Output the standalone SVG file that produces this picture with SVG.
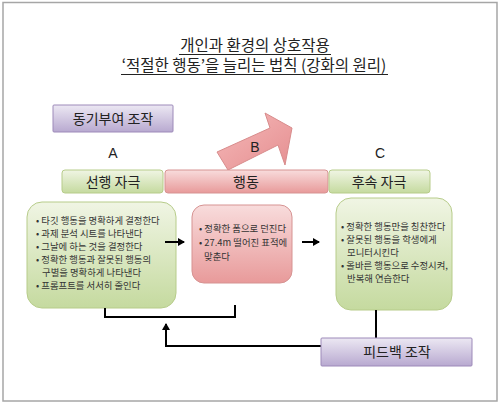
<svg xmlns="http://www.w3.org/2000/svg" width="500" height="405" viewBox="0 0 500 405">
<defs>
<linearGradient id="gGreen" x1="0" y1="0" x2="0" y2="1"><stop offset="0" stop-color="#f0f5e4"/><stop offset="1" stop-color="#c5da9f"/></linearGradient>
<linearGradient id="gPink" x1="0" y1="0" x2="0" y2="1"><stop offset="0" stop-color="#f8dcdc"/><stop offset="1" stop-color="#e89a9a"/></linearGradient>
<linearGradient id="gPurple" x1="0" y1="0" x2="0" y2="1"><stop offset="0" stop-color="#ece8f3"/><stop offset="1" stop-color="#b8a9d0"/></linearGradient>
<linearGradient id="gArrow" x1="0" y1="0" x2="1" y2="1"><stop offset="0" stop-color="#f5b9b9"/><stop offset="1" stop-color="#e58e90"/></linearGradient>
<marker id="ah" markerWidth="8" markerHeight="8" refX="6" refY="4" orient="auto" markerUnits="userSpaceOnUse"><path d="M0,0 L7,4 L0,8 Z" fill="#000"/></marker>
<style>
text{font-family:"Noto Sans CJK KR","Noto Sans",sans-serif;fill:#222}
.t{font-size:15.5px;text-anchor:middle}
.bar{font-size:14px;text-anchor:middle}
.s{font-size:9.4px;fill:#333}
.lbl{font-family:"Liberation Sans",Arial,sans-serif;font-size:14px;text-anchor:middle}
.gb{fill:url(#gGreen);stroke:#b7cc8a;stroke-width:1}
.pb{fill:url(#gPink);stroke:#d69392;stroke-width:1}
.ub{fill:url(#gPurple);stroke:#9d8ab9;stroke-width:1}
.ln{fill:none;stroke:#000;stroke-width:2}
</style>
</defs>
<rect x="3" y="2.5" width="494" height="398.5" fill="#fff" stroke="#a6a6a6" stroke-width="1.5"/>
<g id="title">
<text class="t" x="255" y="51">개인과 환경의 상호작용</text>
<line x1="179" y1="54.5" x2="331" y2="54.5" stroke="#222" stroke-width="1"/>
<text class="t" x="254" y="71">‘적절한 행동’을 늘리는 법칙 (강화의 원리)</text>
<line x1="121" y1="74.5" x2="388" y2="74.5" stroke="#222" stroke-width="1"/>
</g>
<g id="motivation">
<rect class="ub" x="53" y="105" width="120" height="27" rx="1"/>
<text class="bar" x="113" y="124">동기부여 조작</text>
</g>
<g id="arrowB">
<polygon points="217,152 270,128 265,113 292,128 285,165 278,145 228,170" fill="url(#gArrow)" stroke="#d88c8c" stroke-width="1"/>
<text class="lbl" x="255" y="152">B</text>
</g>
<text class="lbl" x="113" y="158">A</text>
<text class="lbl" x="380" y="158">C</text>
<g id="antecedent">
<rect class="gb" x="62" y="170" width="101" height="23" rx="3"/>
<text class="bar" x="113" y="187">선행 자극</text>
</g>
<g id="behavior">
<rect class="pb" x="165" y="170" width="163" height="23" rx="3"/>
<text class="bar" x="246" y="187">행동</text>
</g>
<g id="consequence">
<rect class="gb" x="329" y="170" width="101" height="23" rx="3"/>
<text class="bar" x="379" y="187">후속 자극</text>
</g>
<g id="antecedentBox">
<rect class="gb" x="27" y="202" width="149" height="106" rx="15"/>
<text class="s" x="36" y="224">• 타깃 행동을 명확하게 결정한다</text>
<text class="s" x="36" y="237">• 과제 분석 시트를 나타낸다</text>
<text class="s" x="36" y="250">• 그날에 하는 것을 결정한다</text>
<text class="s" x="36" y="263">• 정확한 행동과 잘못된 행동의</text>
<text class="s" x="42" y="276">구별을 명확하게 나타낸다</text>
<text class="s" x="36" y="289">• 프롬프트를 서서히 줄인다</text>
</g>
<g id="behaviorBox">
<rect class="pb" x="192" y="205" width="100" height="78" rx="12"/>
<text class="s" x="199" y="232">• 정확한 폼으로 던진다</text>
<text class="s" x="199" y="246">• 27.4m 떨어진 표적에</text>
<text class="s" x="204" y="260">맞춘다</text>
</g>
<g id="consequenceBox">
<rect class="gb" x="336" y="198" width="116" height="112" rx="15"/>
<text class="s" x="341" y="230">• 정확한 행동만을 칭찬한다</text>
<text class="s" x="341" y="243">• 잘못된 행동을 학생에게</text>
<text class="s" x="347" y="256">모니터시킨다</text>
<text class="s" x="341" y="269">• 올바른 행동으로 수정시켜,</text>
<text class="s" x="347" y="282">반복해 연습한다</text>
</g>
<g id="connectors">
<line class="ln" x1="165" y1="242" x2="184" y2="242" marker-end="url(#ah)"/>
<line class="ln" x1="302" y1="242" x2="319" y2="242" marker-end="url(#ah)"/>
<polyline class="ln" points="105,308 105,317 235,317 235,305"/>
<line class="ln" x1="376" y1="310" x2="376" y2="338"/>
<polyline class="ln" points="322,346 166,346 166,324" marker-end="url(#ah)"/>
</g>
<g id="feedback">
<rect class="ub" x="321" y="338" width="151" height="28" rx="1"/>
<text class="bar" x="397" y="357">피드백 조작</text>
</g>
</svg>
